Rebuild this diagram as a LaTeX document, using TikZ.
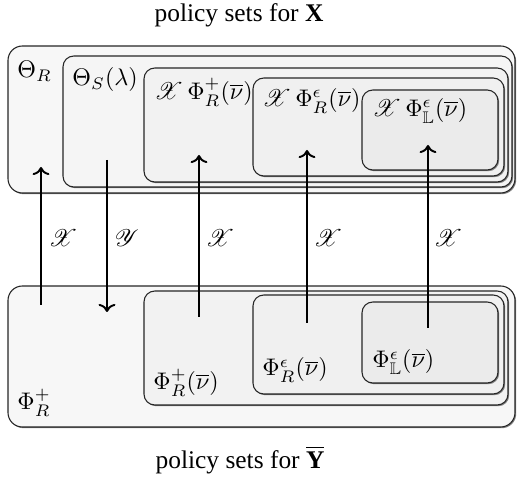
\documentclass[tikz,border=0pt]{standalone}
\usepackage{amssymb}
\usepackage{mathrsfs}
\usepackage{fontspec}
\setmainfont{Liberation Serif}
\usetikzlibrary{fit,shadows,arrows.meta}
\tikzset{
  setbox/.style={draw=black!85, line width=0.45pt, rounded corners=4.5pt, inner sep=0pt,
    drop shadow={shadow xshift=0.5pt, shadow yshift=-0.5pt, fill=black!50, opacity=1}},
  lvlA/.style={setbox, fill=black!3, rounded corners=6pt},
  lvlB/.style={setbox, fill=black!4},
  lvlC/.style={setbox, fill=black!5},
  lvlD/.style={setbox, fill=black!6},
  lvlE/.style={setbox, fill=black!8},
  setlabel/.style={inner sep=0pt, font=\normalsize},
  conn/.style={line width=0.8pt, -{Computer Modern Rightarrow}},
  maplabel/.style={inner sep=0pt},
  title/.style={inner sep=0pt, font=\fontsize{10.6}{12}\selectfont}
}
\begin{document}
\begin{tikzpicture}[x=0.4167pt, y=-0.4167pt]
\useasboundingbox (0,0) rectangle (517,477);
% titles
\node[title] (ttop) at (239,15) {policy sets for $\mathbf{X}$};
\node[title] (tbot) at (240,460) {policy sets for $\overline{\mathbf{Y}}$};
% top block
\node[lvlA, fit={(8,46) (515,193)}] (thR) {};
\node[lvlB, fit={(63,56) (512,187)}] (thS) {};
\node[lvlC, fit={(144,68) (508,182)}] (xpR) {};
\node[lvlD, fit={(253,78) (504,176)}] (xeR) {};
\node[lvlE, fit={(362,90) (498,170)}] (xeL) {};
\node[setlabel, anchor=north west] (lthR) at (17,61) {$\Theta_R$};
\node[setlabel, anchor=north west] (lthS) at (72,67) {$\Theta_S(\lambda)$};
\node[setlabel, anchor=north west] (lxpR) at (154,78) {$\mathscr{X}\,\Phi_R^+(\overline{\nu})$};
\node[setlabel, anchor=north west] (lxeR) at (262,88) {$\mathscr{X}\,\Phi_R^\epsilon(\overline{\nu})$};
\node[setlabel, anchor=north west] (lxeL) at (372,98) {$\mathscr{X}\,\Phi_{\mathbb{L}}^\epsilon(\overline{\nu})$};
% bottom block
\node[lvlA, fit={(8,286) (515,427)}] (pR) {};
\node[lvlC, fit={(144,291) (508,405)}] (ppR) {};
\node[lvlD, fit={(253,295) (504,394)}] (peR) {};
\node[lvlE, fit={(362,302) (498,383)}] (peL) {};
\node[setlabel, anchor=south west] (lpR) at (17,417) {$\Phi_R^+$};
\node[setlabel, anchor=south west] (lppR) at (153,397) {$\Phi_R^+(\overline{\nu})$};
\node[setlabel, anchor=south west] (lpeR) at (262,383) {$\Phi_R^\epsilon(\overline{\nu})$};
\node[setlabel, anchor=south west] (lpeL) at (372,375) {$\Phi_{\mathbb{L}}^\epsilon(\overline{\nu})$};
% arrow end points
\coordinate (a1s) at (41,305);  \coordinate (a1e) at (41,167);
\coordinate (a2s) at (107,160); \coordinate (a2e) at (107,312);
\coordinate (a3s) at (199,317); \coordinate (a3e) at (199,155);
\coordinate (a4s) at (307,323); \coordinate (a4e) at (307,150);
\coordinate (a5s) at (428,328); \coordinate (a5e) at (428,145);
\draw[conn] (a1s) -- (a1e);
\draw[conn] (a2s) -- (a2e);
\draw[conn] (a3s) -- (a3e);
\draw[conn] (a4s) -- (a4e);
\draw[conn] (a5s) -- (a5e);
\node[maplabel] (m1) at (63,238) {$\mathscr{X}$};
\node[maplabel] (m2) at (127,238) {$\mathscr{Y}$};
\node[maplabel] (m3) at (220,238) {$\mathscr{X}$};
\node[maplabel] (m4) at (328,238) {$\mathscr{X}$};
\node[maplabel] (m5) at (448,238) {$\mathscr{X}$};
\end{tikzpicture}
\end{document}
